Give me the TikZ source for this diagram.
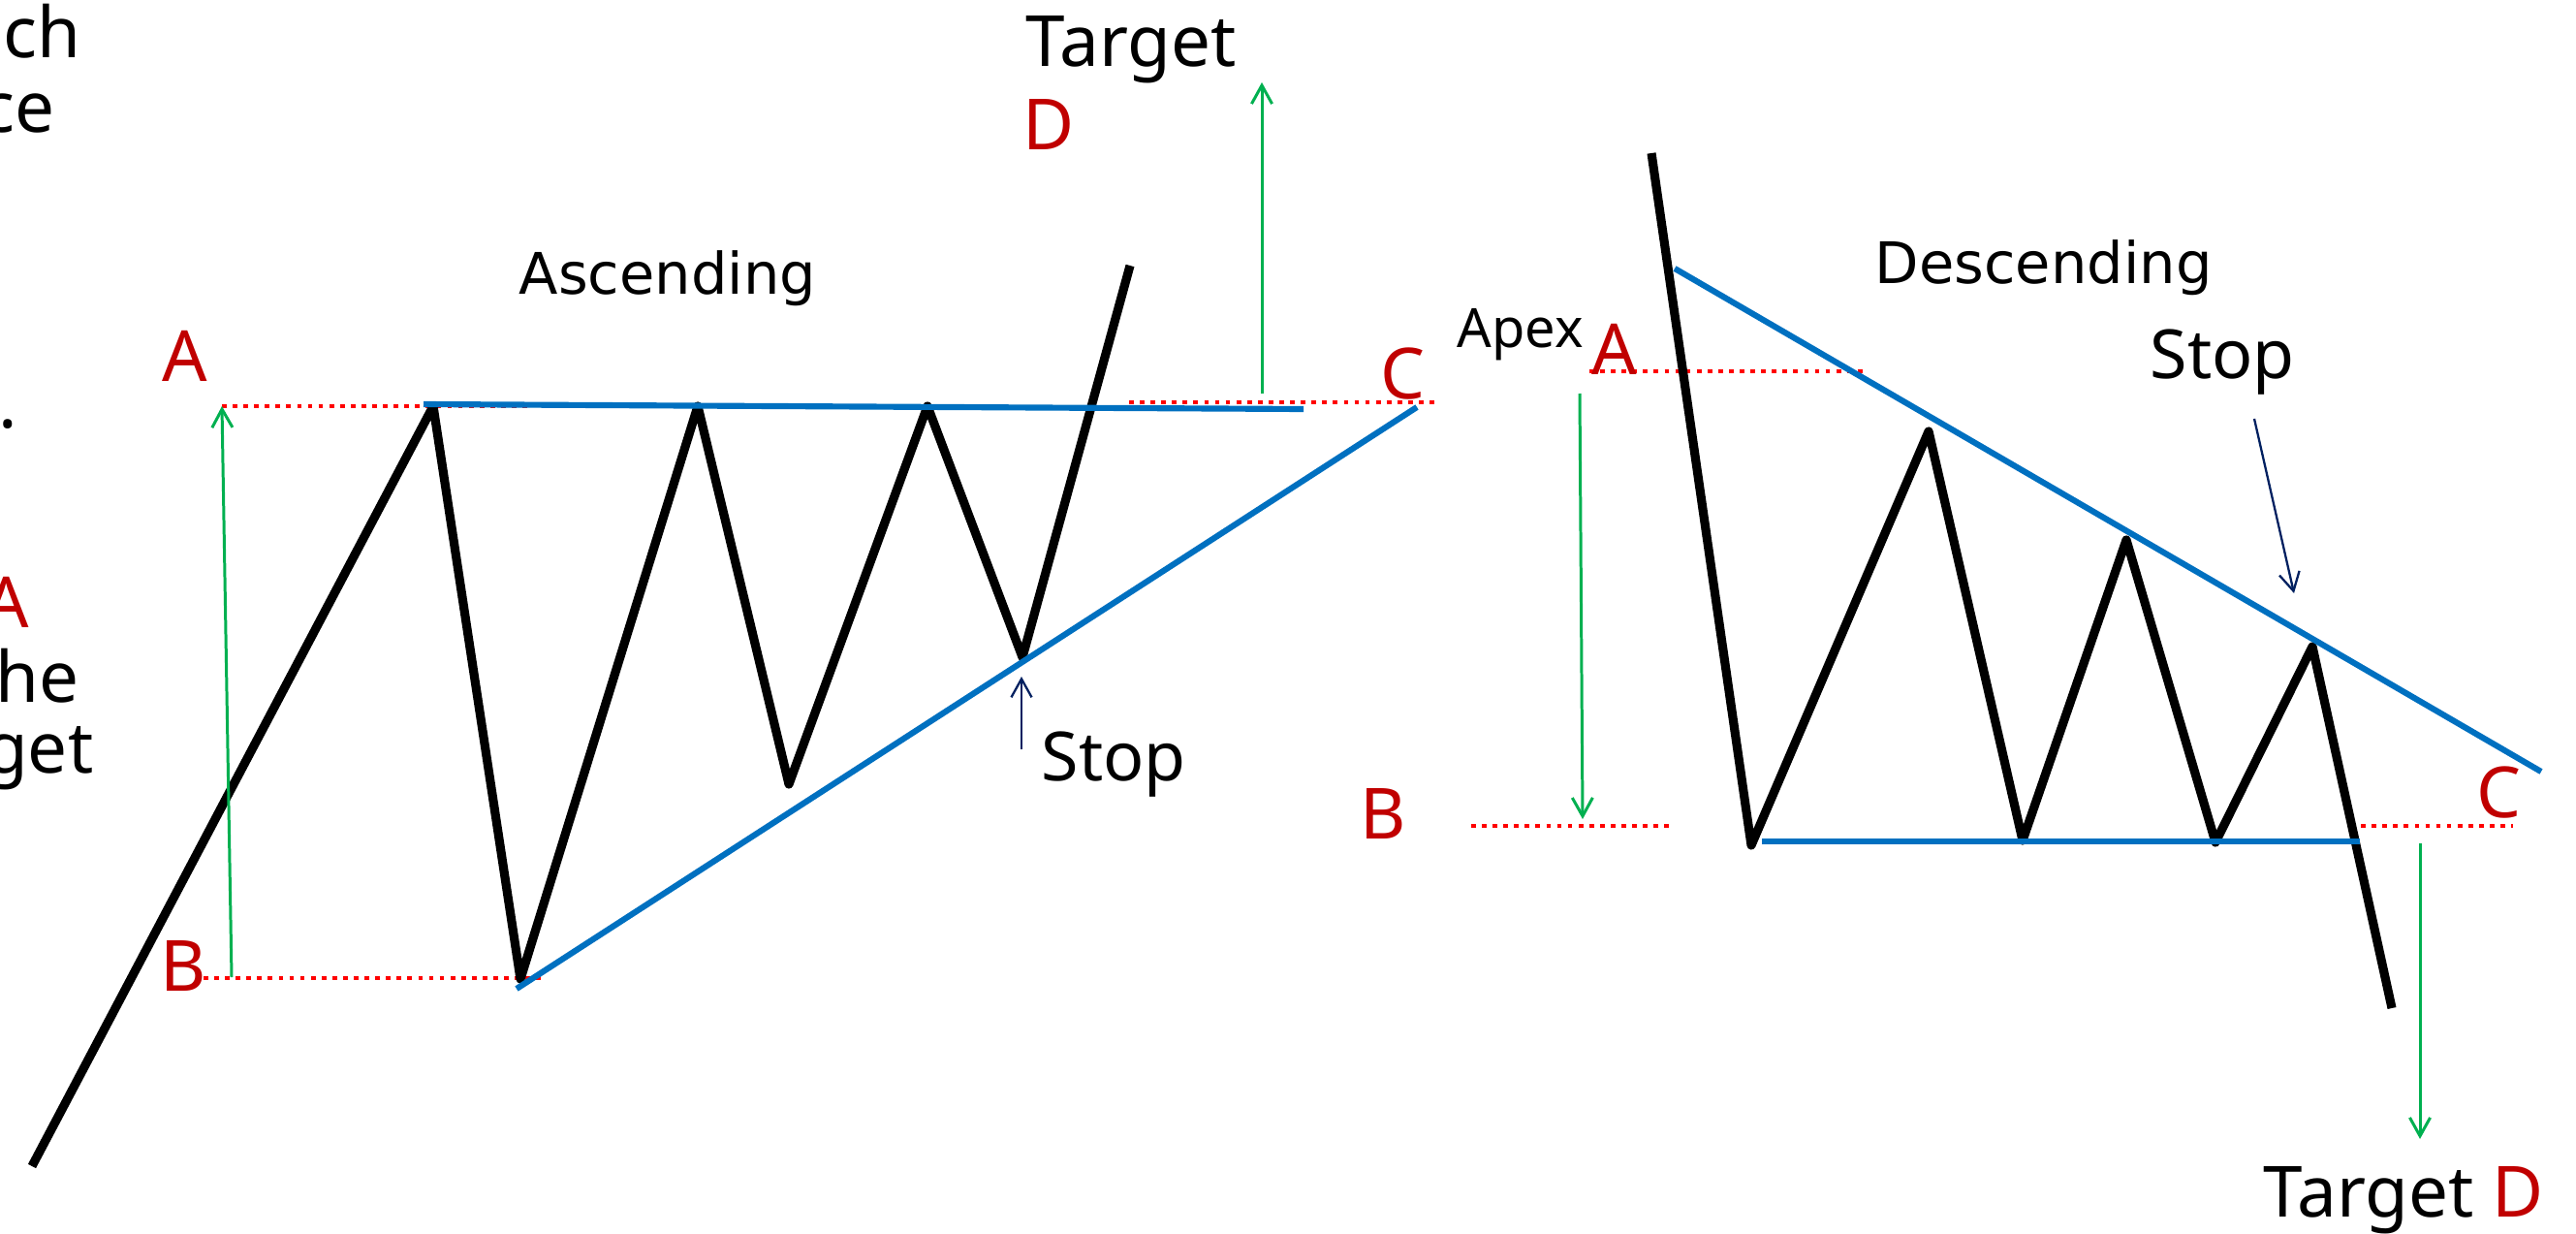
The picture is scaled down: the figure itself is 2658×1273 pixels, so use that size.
\documentclass[tikz,border=0pt]{standalone}
\usepackage{fontspec}
\setmainfont{Noto Sans}
\newfontfamily\titlefont{DejaVu Sans}
\usetikzlibrary{arrows.meta}
\definecolor{lblred}{HTML}{C00000}
\definecolor{dotred}{HTML}{FF0000}
\definecolor{lineblue}{HTML}{0070C0}
\definecolor{arrgreen}{HTML}{00B050}
\definecolor{stopnavy}{HTML}{002060}

\begin{document}
\begin{tikzpicture}[x=0.01cm,y=-0.01cm,
    price/.style={line width=2.6pt,line join=round},
    trend/.style={line width=1.75pt,lineblue},
    level/.style={line width=1.35pt,dotred,dash pattern=on 1.35pt off 1.8pt},
    move/.style={line width=0.85pt,arrgreen,-{Straight Barb[length=5.4pt,width=6pt]}},
    stoparr/.style={line width=0.65pt,stopnavy,-{Straight Barb[length=5.4pt,width=6pt]}},
    lbl/.style={inner sep=0pt,anchor=base west,font=\fontsize{20.7}{24}\selectfont},
    redlbl/.style={lbl,text=lblred},
    stoplbl/.style={lbl,font=\fontsize{19.9}{24}\selectfont},
    title/.style={inner sep=0pt,anchor=base west,font=\titlefont\fontsize{16.8}{20}\selectfont}]
    \clip (0,0) rectangle (2658,1273);
    % ascending triangle
    \coordinate(p0)at(33,1203);
    \coordinate(p1)at(447,419);
    \coordinate(p2)at(537,1010);
    \coordinate(p3)at(720,419);
    \coordinate(p4)at(814,809);
    \coordinate(p5)at(957,419);
    \coordinate(p6)at(1055,678);
    \coordinate(p7)at(1166,274);
    \coordinate(resL)at(437,417);
    \coordinate(resR)at(1345,422);
    \coordinate(supL)at(533,1020);
    \coordinate(supR)at(1462,420);
    \coordinate(lvA1)at(229,419);
    \coordinate(lvA2)at(545,419);
    \coordinate(lvB1)at(210,1009);
    \coordinate(lvB2)at(563,1009);
    \coordinate(lvC1)at(1165,415);
    \coordinate(lvC2)at(1480,415);
    \coordinate(hgtB)at(239,1008);
    \coordinate(tgtS)at(1302,406);
    \coordinate(tgtE)at(1302,85);
    \coordinate(stpS)at(1054,773);
    \coordinate(stpE)at(1054,698);
    \draw[level](lvA1)--(lvA2);
    \draw[level](lvB1)--(lvB2);
    \draw[level](lvC1)--(lvC2);
    \draw[price](p0)--(p1)--(p2)--(p3)--(p4)--(p5)--(p6)--(p7);
    \draw[trend](resL)--(resR);
    \draw[trend](supL)--(supR);
    \draw[move](hgtB)--(lvA1);
    \draw[move](tgtS)--(tgtE);
    \draw[stoparr](stpS)--(stpE);
    \node[title](asc)at(535,304){Ascending};
    \node[redlbl](ascA)at(167,393){A};
    \node[redlbl](ascB)at(165,1022){B};
    \node[redlbl](ascC)at(1424,411){C};
    \node[lbl](ascT)at(1058,69){Target};
    \node[redlbl](ascD)at(1055,155){D};
    \node[stoplbl](ascStop)at(1074,805){Stop};
    % descending triangle
    \coordinate(q0)at(1704,158);
    \coordinate(q1)at(1807,872);
    \coordinate(q2)at(1990,445);
    \coordinate(q3)at(2087,867);
    \coordinate(q4)at(2194,557);
    \coordinate(q5)at(2286,869);
    \coordinate(q6)at(2386,667);
    \coordinate(q7)at(2468,1040);
    \coordinate(dresL)at(1728,277);
    \coordinate(dresR)at(2622,796);
    \coordinate(dsupL)at(1818,868);
    \coordinate(dsupR)at(2435,868);
    \coordinate(dlvA1)at(1640,383);
    \coordinate(dlvA2)at(1927,383);
    \coordinate(dlvB1)at(1518,852);
    \coordinate(dlvB2)at(1728,852);
    \coordinate(dlvC1)at(2425,852);
    \coordinate(dlvC2)at(2593,852);
    \coordinate(dhgtS)at(1630,406);
    \coordinate(dhgtE)at(1633,845);
    \coordinate(dtgtS)at(2497,870);
    \coordinate(dtgtE)at(2497,1175);
    \coordinate(dstpS)at(2326,432);
    \coordinate(dstpE)at(2367,612);
    \draw[level](dlvA1)--(dlvA2);
    \draw[level](dlvB1)--(dlvB2);
    \draw[level](dlvC1)--(dlvC2);
    \draw[price](q0)--(q1)--(q2)--(q3)--(q4)--(q5)--(q6)--(q7);
    \draw[trend](dresL)--(dresR);
    \draw[trend](dsupL)--(dsupR);
    \draw[move](dhgtS)--(dhgtE);
    \draw[move](dtgtS)--(dtgtE);
    \draw[stoparr](dstpS)--(dstpE);
    \node[title](desc)at(1934,292){Descending};
    \node[lbl,font=\fontsize{15.9}{19}\selectfont](apex)at(1503,358){Apex};
    \node[redlbl](descA)at(1642,386){A};
    \node[redlbl](descB)at(1403,865){B};
    \node[redlbl](descC)at(2555,843){C};
    \node[stoplbl](descStop)at(2218,390){Stop};
    \node[lbl](descT)at(2335,1255){Target \textcolor{lblred}{D}};
    % text cut at the left edge
    \node[lbl,anchor=base east](frag1)at(84,60){uch};
    \node[lbl,anchor=base east](frag2)at(57,137){ce};
    \node[lbl,anchor=base east](frag3)at(19,441){.};
    \node[redlbl,anchor=base east](frag4)at(31,647){A};
    \node[lbl,anchor=base east](frag5)at(82,724){the};
    \node[lbl,anchor=base east](frag6)at(97,797){get};
\end{tikzpicture}
\end{document}
